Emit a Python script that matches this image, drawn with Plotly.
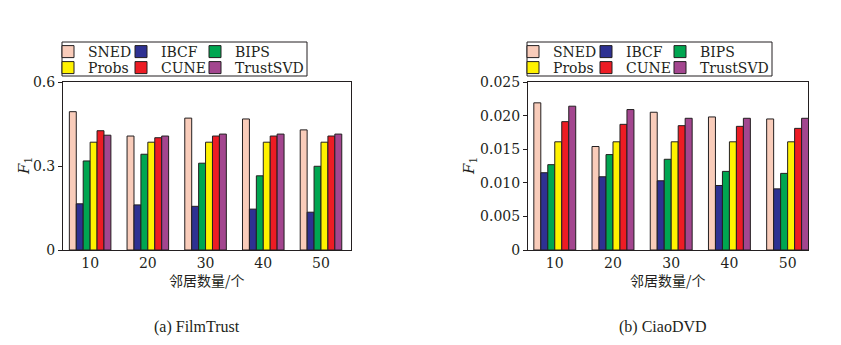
import plotly.graph_objects as go

# Neighbour counts on the x axis
neighbors = ["10", "20", "30", "40", "50"]

# Methods and their bar colours
methods = ["SNED", "IBCF", "BIPS", "Probs", "CUNE", "TrustSVD"]
colors = ["#F9CCBA", "#2E3192", "#00A651", "#FFF200", "#ED1C24", "#A3468F"]

# F1 on FilmTrust
filmtrust_sned = [0.494, 0.407, 0.471, 0.468, 0.429]
filmtrust_ibcf = [0.165, 0.161, 0.156, 0.146, 0.135]
filmtrust_bips = [0.318, 0.342, 0.310, 0.265, 0.299]
filmtrust_probs = [0.385, 0.385, 0.385, 0.385, 0.385]
filmtrust_cune = [0.426, 0.401, 0.407, 0.407, 0.407]
filmtrust_trustsvd = [0.410, 0.407, 0.414, 0.414, 0.414]

# F1 on CiaoDVD
ciao_sned = [0.0219, 0.0154, 0.0205, 0.0198, 0.0195]
ciao_ibcf = [0.0115, 0.0109, 0.0103, 0.0096, 0.0091]
ciao_bips = [0.0127, 0.0142, 0.0135, 0.0117, 0.0114]
ciao_probs = [0.0161, 0.0161, 0.0161, 0.0161, 0.0161]
ciao_cune = [0.0191, 0.0187, 0.0185, 0.0184, 0.0181]
ciao_trustsvd = [0.0214, 0.0209, 0.0196, 0.0196, 0.0196]

# Axis ticks
left_tickvals = [0, 0.3, 0.6]
left_ticktext = ["0", "0.3", "0.6"]
right_tickvals = [0, 0.005, 0.010, 0.015, 0.020, 0.025]
right_ticktext = ["0", "0.005", "0.010", "0.015", "0.020", "0.025"]

x_title = "邻居数量/个"
y_title = "<i>F</i><sub>1</sub>"
captions = ["(a) FilmTrust", "(b) CiaoDVD"]

W, H = 841, 345
SERIF = "DejaVu Serif"
INK = "#231F20"


def px(x):
    return x / W


def py(y):
    return (H - y) / H


filmtrust = [filmtrust_sned, filmtrust_ibcf, filmtrust_bips,
             filmtrust_probs, filmtrust_cune, filmtrust_trustsvd]
ciao = [ciao_sned, ciao_ibcf, ciao_bips, ciao_probs, ciao_cune, ciao_trustsvd]

plot_top, plot_bottom = 82, 250
left_x0, left_x1 = 63, 351
right_x0, right_x1 = 528, 808

# legend entries: 3 columns x 2 rows above each panel, one legend per entry
col_offsets = [-15, 58, 132]
row_centers = [52, 68]

fig = go.Figure()
legends = {}
n_legend = 1
for data, xa, ya, x0 in [(filmtrust, "x", "y", left_x0),
                         (ciao, "x2", "y2", right_x0)]:
    for i, (name, color) in enumerate(zip(methods, colors)):
        n_legend += 1
        key = f"legend{n_legend}"
        legends[key] = dict(
            orientation="h", x=px(x0 + col_offsets[i % 3]), xanchor="left",
            y=py(row_centers[i // 3]), yanchor="middle",
            bgcolor="rgba(0,0,0,0)", borderwidth=0, itemwidth=30,
            font=dict(family=SERIF, size=14, color=INK))
        fig.add_trace(go.Bar(
            x=neighbors, y=data[i], name=name,
            marker=dict(color=color, line=dict(color=INK, width=1)),
            xaxis=xa, yaxis=ya, legend=key,
        ))

axis_common = dict(showline=True, mirror=True, linecolor=INK, linewidth=1,
                   showgrid=False, zeroline=False,
                   tickfont=dict(family=SERIF, size=14, color=INK))

x_common = dict(axis_common, type="category", ticks="")
y_common = dict(axis_common, ticks="outside", ticklen=4, tickcolor=INK)

# frames drawn round each block of legend entries
shapes = []
for x0 in (left_x0, right_x0):
    shapes.append(dict(type="rect", xref="paper", yref="paper",
                       x0=px(x0 - 1), x1=px(x0 + 244), y0=py(76), y1=py(42),
                       line=dict(color=INK, width=1), fillcolor="rgba(0,0,0,0)"))

annotations = []
for cx in ((left_x0 + left_x1) / 2, (right_x0 + right_x1) / 2):
    annotations.append(dict(text=x_title, xref="paper", yref="paper",
                            x=px(cx), y=py(280), xanchor="center", yanchor="middle",
                            showarrow=False,
                            font=dict(family="Noto Sans CJK SC", size=14, color=INK)))
for cx in (24, 469):
    annotations.append(dict(text=y_title, xref="paper", yref="paper",
                            x=px(cx), y=py((plot_top + plot_bottom) / 2),
                            xanchor="center", yanchor="middle", textangle=-90,
                            showarrow=False,
                            font=dict(family=SERIF, size=15, color=INK)))
for text, cx in zip(captions, (197, 663)):
    annotations.append(dict(text=text, xref="paper", yref="paper",
                            x=px(cx), y=py(327), xanchor="center", yanchor="middle",
                            showarrow=False,
                            font=dict(family="Liberation Serif", size=16, color=INK)))

fig.update_layout(
    width=W, height=H,
    margin=dict(l=0, r=0, t=0, b=0, autoexpand=False),
    paper_bgcolor="white", plot_bgcolor="white",
    barmode="group", bargap=0.28, bargroupgap=0,
    xaxis=dict(x_common, domain=[px(left_x0), px(left_x1)], anchor="y",
               range=[-0.47, 4.52]),
    yaxis=dict(y_common, domain=[py(plot_bottom), py(plot_top)], anchor="x",
               range=[0, 0.6], tickvals=left_tickvals, ticktext=left_ticktext),
    xaxis2=dict(x_common, domain=[px(right_x0), px(right_x1)], anchor="y2",
                range=[-0.46, 4.35]),
    yaxis2=dict(y_common, domain=[py(plot_bottom), py(plot_top)], anchor="x2",
                range=[0, 0.025], tickvals=right_tickvals, ticktext=right_ticktext),
    shapes=shapes,
    annotations=annotations,
    **legends,
)

fig.write_html("out.html")
